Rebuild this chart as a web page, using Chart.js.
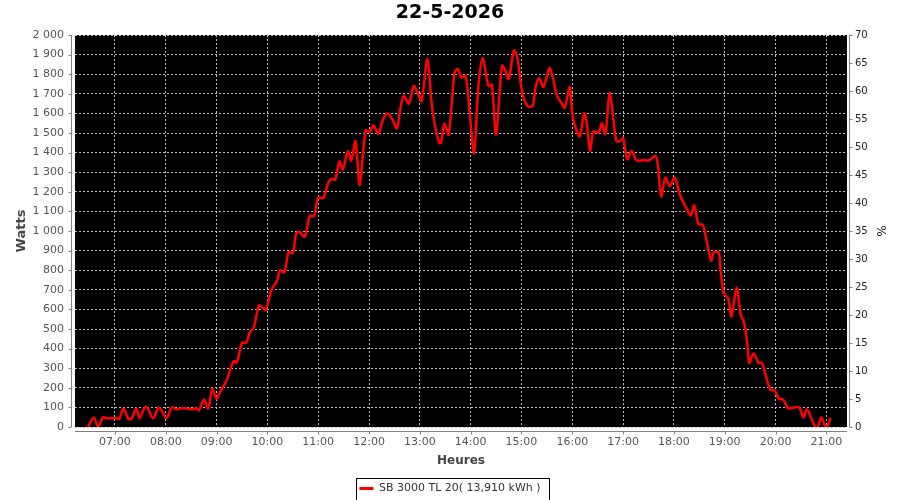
<!DOCTYPE html>
<html>
<head>
<meta charset="utf-8">
<script src="https://cdn.jsdelivr.net/npm/chart.js@4.4.1/dist/chart.umd.min.js"></script>
<style>
  html, body { margin: 0; padding: 0; background: #fff; overflow: hidden; }
</style>
</head>
<body>
<canvas id="chart" width="900" height="500"></canvas>
<script>
// readings of the inverter, time of day -> watts
const times = [
  '06:28', '06:35', '06:40', '06:46', '06:50', '06:56', '07:02', '07:05', '07:10', '07:16',
  '07:20', '07:25', '07:29', '07:35', '07:38', '07:45', '07:52', '08:01', '08:07', '08:13',
  '08:17', '08:25', '08:30', '08:37', '08:39', '08:45', '08:50', '08:55', '09:00', '09:05',
  '09:12', '09:20', '09:24', '09:30', '09:35', '09:39', '09:44', '09:50', '09:54', '09:58',
  '10:05', '10:11', '10:15', '10:20', '10:25', '10:30', '10:34', '10:38', '10:44', '10:50',
  '10:55', '11:00', '11:06', '11:12', '11:16', '11:20', '11:25', '11:29', '11:35', '11:39',
  '11:44', '11:49', '11:56', '12:01', '12:05', '12:11', '12:17', '12:22', '12:28', '12:33',
  '12:37', '12:41', '12:47', '12:53', '12:58', '13:02', '13:09', '13:14', '13:18', '13:23',
  '13:25', '13:29', '13:34', '13:41', '13:45', '13:49', '13:54', '13:59', '14:04', '14:09',
  '14:14', '14:21', '14:25', '14:30', '14:37', '14:41', '14:45', '14:51', '14:55', '15:01',
  '15:07', '15:13', '15:17', '15:21', '15:26', '15:33', '15:37', '15:42', '15:47', '15:51',
  '15:57', '16:00', '16:05', '16:09', '16:14', '16:17', '16:21', '16:25', '16:31', '16:35',
  '16:39', '16:44', '16:47', '16:52', '16:57', '17:00', '17:05', '17:10', '17:16', '17:24',
  '17:31', '17:38', '17:41', '17:45', '17:50', '17:55', '18:01', '18:07', '18:14', '18:20',
  '18:24', '18:29', '18:34', '18:38', '18:44', '18:47', '18:53', '18:55', '18:59', '19:04',
  '19:08', '19:14', '19:19', '19:23', '19:27', '19:29', '19:34', '19:40', '19:44', '19:49',
  '19:54', '19:59', '20:04', '20:09', '20:15', '20:22', '20:28', '20:33', '20:37', '20:42',
  '20:47', '20:50', '20:54', '20:59', '21:01', '21:05'
];
const watts = [
  0, 48, 0, 50, 45, 45, 45, 40, 95, 40,
  45, 95, 45, 100, 100, 45, 100, 45, 100, 90,
  95, 95, 90, 95, 85, 140, 95, 195, 145, 185,
  240, 335, 330, 430, 430, 480, 510, 620, 610, 597,
  703, 742, 799, 789, 892, 888, 988, 995, 970, 1077,
  1077, 1171, 1168, 1248, 1266, 1262, 1355, 1314, 1406, 1360,
  1458, 1235, 1514, 1506, 1540, 1497, 1574, 1600, 1566, 1523,
  1626, 1690, 1650, 1740, 1700, 1663, 1878, 1646, 1535, 1449,
  1449, 1547, 1492, 1809, 1826, 1783, 1792, 1595, 1397, 1732,
  1883, 1740, 1746, 1492, 1843, 1818, 1775, 1921, 1886, 1706,
  1638, 1638, 1740, 1780, 1735, 1831, 1783, 1689, 1655, 1629,
  1735, 1598, 1512, 1483, 1601, 1555, 1409, 1508, 1503, 1550,
  1495, 1704, 1632, 1460, 1460, 1474, 1366, 1409, 1361, 1361,
  1361, 1383, 1340, 1177, 1272, 1229, 1272, 1186, 1122, 1079,
  1131, 1035, 1031, 963, 849, 890, 890, 804, 680, 658,
  564, 710, 572, 530, 409, 327, 375, 327, 327, 255,
  189, 186, 143, 140, 95, 100, 100, 48, 91, 48,
  0, 0, 48, 0, 0, 48
];
const hourTicks = ['07:00', '08:00', '09:00', '10:00', '11:00', '12:00', '13:00',
  '14:00', '15:00', '16:00', '17:00', '18:00', '19:00', '20:00', '21:00'];

const toMin = s => {
  const [h, m] = s.split(':').map(Number);
  return h * 60 + m;
};
const fmtTime = v => {
  const h = Math.floor(v / 60), m = Math.round(v % 60);
  return String(h).padStart(2, '0') + ':' + String(m).padStart(2, '0');
};
const fmtWatts = v => v >= 1000 ? Math.floor(v / 1000) + ' ' + String(v % 1000).padStart(3, '0') : String(v);

Chart.defaults.font.family = '"DejaVu Sans", sans-serif';

const gridDash = { color: '#c0c0c0', lineWidth: 1, drawTicks: false };

// black plot area, offset axis lines and the legend frame
const plotDecor = {
  id: 'plotDecor',
  beforeDraw(chart) {
    const { ctx, chartArea: a } = chart;
    ctx.save();
    ctx.fillStyle = '#000';
    ctx.fillRect(a.left, a.top, a.right - a.left, a.bottom - a.top);
    ctx.restore();
  },
  afterDraw(chart) {
    const { ctx, chartArea: a, scales } = chart;
    ctx.save();
    ctx.strokeStyle = '#808080';
    ctx.lineWidth = 1;
    ctx.beginPath();
    const lx = a.left - 3.5;
    ctx.moveTo(lx, a.top); ctx.lineTo(lx, a.bottom);
    scales.y.ticks.forEach(t => {
      const py = Math.round(scales.y.getPixelForValue(t.value)) + 0.5;
      ctx.moveTo(lx - 3, py); ctx.lineTo(lx, py);
    });
    const rx = a.right + 2.5;
    ctx.moveTo(rx, a.top); ctx.lineTo(rx, a.bottom);
    scales.y2.ticks.forEach(t => {
      const py = Math.round(scales.y2.getPixelForValue(t.value)) + 0.5;
      ctx.moveTo(rx, py); ctx.lineTo(rx + 3, py);
    });
    const by = a.bottom + 4.5;
    ctx.moveTo(a.left, by); ctx.lineTo(a.right, by);
    scales.x.ticks.forEach(t => {
      const px = Math.round(scales.x.getPixelForValue(t.value)) + 0.5;
      ctx.moveTo(px, by); ctx.lineTo(px, by + 3);
    });
    ctx.stroke();

    const hb = chart.legend.legendHitBoxes[0];
    if (hb) {
      const cy = hb.top + hb.height / 2;
      ctx.strokeStyle = '#000';
      ctx.strokeRect(Math.round(hb.left - 3) + 0.5, Math.round(cy - 11) + 0.5,
        Math.round(hb.width + 12), 22);
    }
    ctx.restore();
  }
};

new Chart(document.getElementById('chart'), {
  type: 'line',
  data: {
    datasets: [{
      label: 'SB 3000 TL 20( 13,910 kWh )',
      data: times.map((t, i) => ({ x: toMin(t), y: watts[i] })),
      borderColor: 'rgb(255, 0, 0)',
      backgroundColor: 'rgb(255, 0, 0)',
      borderWidth: 2.5,
      pointRadius: 0,
      tension: 0.3,
      fill: false,
      yAxisID: 'y'
    }]
  },
  options: {
    responsive: false,
    devicePixelRatio: 1,
    animation: false,
    layout: { padding: { top: 0, left: 0, right: 0, bottom: -4 } },
    plugins: {
      title: {
        display: true,
        text: '22-5-2026',
        color: '#000',
        font: { size: 19, weight: 'bold' },
        padding: { top: 1.5, bottom: 10.7 }
      },
      legend: {
        position: 'bottom',
        labels: {
          color: '#333',
          font: { size: 11 },
          boxWidth: 14,
          boxHeight: 3,
          padding: 8,
          generateLabels: chart => Chart.defaults.plugins.legend.labels.generateLabels(chart)
            .map(l => ({ ...l, lineWidth: 0 }))
        }
      },
      tooltip: { enabled: false }
    },
    scales: {
      x: {
        type: 'linear',
        min: 372.8,
        max: 1284.4,
        afterBuildTicks: axis => { axis.ticks = hourTicks.map(h => ({ value: toMin(h) })); },
        afterFit: axis => { axis.height = 48; },
        grid: { ...gridDash, tickBorderDash: [2, 2] },
        border: { display: false, dash: [2, 2] },
        ticks: {
          color: '#555',
          font: { size: 11 },
          padding: 9,
          maxRotation: 0,
          autoSkip: false,
          callback: v => fmtTime(v)
        },
        title: {
          display: true,
          text: 'Heures',
          color: '#444',
          font: { size: 12, weight: 'bold' },
          padding: { top: 0, bottom: 7.3 }
        }
      },
      y: {
        position: 'left',
        min: 0,
        max: 2000,
        afterFit: axis => { axis.width = 75; },
        grid: gridDash,
        border: { display: false, dash: [2, 2] },
        ticks: {
          stepSize: 100,
          color: '#555',
          font: { size: 11 },
          padding: 11,
          callback: v => fmtWatts(v)
        },
        title: {
          display: true,
          text: 'Watts',
          color: '#444',
          font: { size: 13, weight: 'bold' },
          padding: { top: 14, bottom: 0 }
        }
      },
      y2: {
        position: 'right',
        min: 0,
        max: 70,
        afterFit: axis => { axis.width = 53; },
        grid: { drawOnChartArea: false, drawTicks: false },
        border: { display: false },
        ticks: {
          stepSize: 5,
          color: '#222',
          font: { size: 10 },
          padding: 8
        },
        title: {
          display: true,
          text: '%',
          color: '#222',
          font: { size: 12 },
          padding: { top: 12.8, bottom: 0 }
        }
      }
    }
  },
  plugins: [plotDecor]
});
</script>
</body>
</html>
